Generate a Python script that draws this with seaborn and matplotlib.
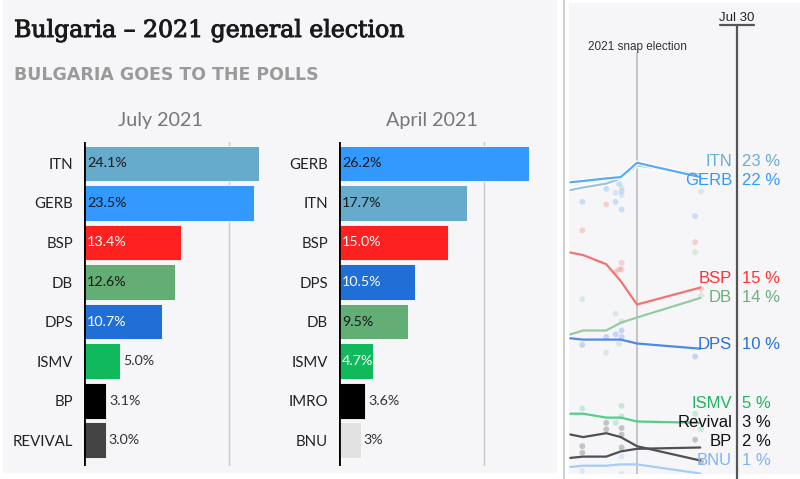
import numpy as np
import pandas as pd
import matplotlib
matplotlib.use("Agg")
import matplotlib.pyplot as plt
from matplotlib.patches import Rectangle
from matplotlib.lines import Line2D
import matplotlib.patheffects as pe
import seaborn as sns

# ---------------- data ----------------
july_parties = ["ITN", "GERB", "BSP", "DB", "DPS", "ISMV", "BP", "REVIVAL"]
july_values = [24.1, 23.5, 13.4, 12.6, 10.7, 5.0, 3.1, 3.0]
july_labels = ["24.1%", "23.5%", "13.4%", "12.6%", "10.7%", "5.0%", "3.1%", "3.0%"]

april_parties = ["GERB", "ITN", "BSP", "DPS", "DB", "ISMV", "IMRO", "BNU"]
april_values = [26.2, 17.7, 15.0, 10.5, 9.5, 4.7, 3.6, 3.0]
april_labels = ["26.2%", "17.7%", "15.0%", "10.5%", "9.5%", "4.7%", "3.6%", "3%"]

trend_dates = ["2021-01-16", "2021-01-31", "2021-02-27", "2021-03-16", "2021-04-04", "2021-06-17"]
trend_itn = [22.3, 22.5, 22.8, 23.2, 24.2, 23.5]
trend_gerb = [22.9, 23.0, 23.2, 23.3, 24.4, 23.3]
trend_bsp = [17.5, 17.3, 16.6, 15.3, 13.5, 14.8]
trend_db = [11.2, 11.5, 11.5, 12.1, 12.5, 14.0]
trend_dps = [10.9, 10.8, 10.8, 10.8, 10.5, 10.1]
trend_ismv = [5.1, 5.1, 4.8, 4.8, 4.5, 4.4]
trend_revival = [1.7, 1.8, 1.8, 2.2, 2.4, 2.5]
trend_bp = [3.5, 3.3, 3.6, 3.3, 2.6, 1.5]
trend_bnu = [1.0, 1.1, 1.1, 1.2, 1.2, 0.5]

trend_parties = ["ITN", "GERB", "BSP", "DB", "DPS", "ISMV", "Revival", "BP", "BNU"]
trend_label_values = ["23 %", "22 %", "15 %", "14 %", "10 %", "5 %", "3 %", "2 %", "1 %"]

poll_party = ["ITN", "GERB", "GERB", "ITN", "GERB", "ITN", "GERB", "ITN", "GERB", "GERB", "ITN", "GERB",
              "BSP", "BSP", "BSP", "BSP", "BSP", "BSP", "BSP", "BSP",
              "DB", "DB", "DB", "DB", "DB", "DB", "DB",
              "DPS", "DPS", "DPS", "DPS", "DPS", "DPS",
              "ISMV", "ISMV", "ISMV", "ISMV", "ISMV", "ISMV",
              "BP", "BP", "BP", "BP", "BP", "Revival", "Revival", "Revival", "Revival",
              "BNU", "BNU", "BNU"]
poll_date = ["2021-02-27", "2021-02-27", "2021-01-30", "2021-03-10", "2021-03-14", "2021-03-17", "2021-03-17",
             "2021-03-17", "2021-03-10", "2021-03-17", "2021-06-18", "2021-06-11",
             "2021-02-27", "2021-01-30", "2021-06-11", "2021-03-10", "2021-03-14", "2021-03-17", "2021-03-17",
             "2021-06-18",
             "2021-06-11", "2021-01-30", "2021-03-10", "2021-03-17", "2021-03-14", "2021-02-27", "2021-06-18",
             "2021-01-30", "2021-02-27", "2021-03-10", "2021-03-17", "2021-03-17", "2021-06-11",
             "2021-01-30", "2021-03-17", "2021-03-17", "2021-03-10", "2021-06-11", "2021-06-18",
             "2021-02-27", "2021-02-27", "2021-03-17", "2021-03-17", "2021-06-18",
             "2021-01-30", "2021-01-30", "2021-03-17", "2021-06-11",
             "2021-03-17", "2021-01-30", "2021-03-17"]
poll_value = [23.2, 22.4, 21.4, 22.1, 22.8, 22.5, 22.2, 21.9, 21.4, 20.8, 22.2, 20.3,
              21.2, 19.2, 18.3, 16.0, 16.2, 16.7, 16.2, 14.7,
              17.5, 13.9, 12.8, 12.2, 10.5, 9.8, 14.2,
              10.4, 11.0, 11.2, 11.0, 11.5, 9.5,
              5.5, 5.7, 4.9, 4.4, 5.1, 3.9,
              4.4, 3.9, 4.0, 3.5, 1.4, 2.6, 2.1, 2.5, 3.1,
              1.8, 0.7, 0.5]

election_date = "2021-04-04"
today_date = "2021-07-30"

# ---------------- styles ----------------
bar_colors = {"ITN": "#67abcc", "GERB": "#3399ff", "BSP": "#ff2020", "DB": "#62ae74",
              "DPS": "#1f6fd6", "ISMV": "#10b95c", "BP": "#000000", "REVIVAL": "#444444",
              "IMRO": "#000000", "BNU": "#e2e2e2"}
line_colors = {"ITN": "#9cc4d6", "GERB": "#5aabf5", "BSP": "#f37373", "DB": "#96cba2",
               "DPS": "#4f8ae2", "ISMV": "#52cf89", "Revival": "#505050", "BP": "#505050",
               "BNU": "#a5cdf7"}
label_colors = {"ITN": "#6aaed0", "GERB": "#3399ff", "BSP": "#ff3333", "DB": "#6cb07c",
                "DPS": "#2870d8", "ISMV": "#20b45c", "Revival": "#111111", "BP": "#111111",
                "BNU": "#80b4f4"}
white_value_labels = {"BSP", "DPS", "ISMV"}

W, H = 800, 479
sns.set_style("white")
plt.rcParams["font.family"] = ["Lato", "DejaVu Sans"]

fig = plt.figure(figsize=(W / 100, H / 100), dpi=100)
fig.patch.set_facecolor("white")


def rect(l, t, r, b):
    return [l / W, 1 - b / H, (r - l) / W, (b - t) / H]


def fpt(x, y):
    return x / W, 1 - y / H


# panel backgrounds
fig.add_artist(Rectangle(fpt(3, 472), (556 - 3) / W, 472 / H, transform=fig.transFigure,
                         color="#f6f6f9", zorder=0))
fig.add_artist(Rectangle(fpt(569, 473), (800 - 569) / W, (473 - 3) / H, transform=fig.transFigure,
                         color="#f6f6f9", zorder=0))
fig.add_artist(Line2D([563.5 / W] * 2, [0, 1], transform=fig.transFigure, color="#cfcfcf", lw=1.5, zorder=1))

# titles
fig.text(*fpt(14, 37), "Bulgaria \u2013 2021 general election", family=["DejaVu Serif"],
         fontsize=17, color="#1a1a1a", ha="left", va="baseline",
         path_effects=[pe.withStroke(linewidth=0.7, foreground="#1a1a1a")])
fig.text(*fpt(14, 80), "BULGARIA GOES TO THE POLLS", family=["DejaVu Sans"], fontweight="bold",
         fontsize=12.5, color="#9a9a9a", ha="left", va="baseline")


def bar_panel(r, parties, values, labels, inside_min):
    ax = fig.add_axes(r)
    ax.set_facecolor("none")
    df = pd.DataFrame({"party": parties, "value": values})
    sns.barplot(data=df, x="value", y="party", hue="party", palette=bar_colors, legend=False,
                orient="h", width=0.9, ax=ax, saturation=1, edgecolor="white", linewidth=0.6)
    ax.set_xlim(0, 28)
    ax.set_ylim(len(parties) - 0.35, -0.54)
    ax.axvline(20, color="#c8c8c8", lw=1, zorder=0)
    ax.axvline(0, color="black", lw=2, zorder=5)
    for s in ax.spines.values():
        s.set_visible(False)
    ax.set_xticks([])
    ax.set_xlabel("")
    ax.set_ylabel("")
    ax.tick_params(axis="y", length=0, pad=8, labelsize=10.8, labelcolor="#222222")
    for i, (p, v, lab) in enumerate(zip(parties, values, labels)):
        if v >= inside_min:
            col = "white" if p in white_value_labels else "#1a1a1a"
            ax.annotate(lab, (0, i), xytext=(3, 0), textcoords="offset pixels", va="center",
                        ha="left", fontsize=10.3, color=col, zorder=6)
        else:
            ax.annotate(lab, (v, i), xytext=(3, 0), textcoords="offset pixels", va="center",
                        ha="left", fontsize=10.3, color="#333333", zorder=6)
    return ax


ax1 = bar_panel(rect(84, 142, 287, 466), july_parties, july_values, july_labels, 10)
ax2 = bar_panel(rect(339, 142, 542, 466), april_parties, april_values, april_labels, 4.5)
fig.text(*fpt(160, 126), "July 2021", ha="center", va="baseline", fontsize=14.2, color="#777777")
fig.text(*fpt(432, 126), "April 2021", ha="center", va="baseline", fontsize=14.2, color="#777777")

# ---------------- trend panel ----------------
axr = fig.add_axes(rect(569, 3, 800, 474))
axr.set_facecolor("none")
series = [trend_itn, trend_gerb, trend_bsp, trend_db, trend_dps, trend_ismv, trend_revival, trend_bp, trend_bnu]
lines_df = pd.DataFrame({
    "party": np.repeat(trend_parties, len(trend_dates)),
    "date": pd.to_datetime(trend_dates * len(trend_parties)),
    "value": np.concatenate(series),
})
polls_df = pd.DataFrame({"party": poll_party, "date": pd.to_datetime(poll_date), "value": poll_value})

sns.scatterplot(data=polls_df, x="date", y="value", hue="party", palette=line_colors, alpha=0.3,
                s=18, linewidth=0, legend=False, ax=axr, zorder=2)
sns.lineplot(data=lines_df, x="date", y="value", hue="party", hue_order=trend_parties,
             palette=line_colors, legend=False, lw=1.6, estimator=None, sort=False, ax=axr, zorder=3)
for ln, p in zip(axr.get_lines(), trend_parties):
    if p in ("ITN", "GERB"):
        ln.set_path_effects([pe.Stroke(linewidth=3.4, foreground="white"), pe.Normal()])

elec = pd.Timestamp(election_date)
today = pd.Timestamp(today_date)
px_per_day = 100 / (today - elec).days
axr.set_xlim(elec - pd.Timedelta(days=(637 - 569) / px_per_day), elec + pd.Timedelta(days=(800 - 637) / px_per_day))
axr.set_ylim((480 - 474) / 13, (480 - 3) / 13)
for s in axr.spines.values():
    s.set_visible(False)
axr.set_xticks([])
axr.set_yticks([])
axr.set_xlabel("")
axr.set_ylabel("")

# reference lines
axr.axvline(elec, ymin=0, ymax=(474 - 53) / 471, color="#bdbdbd", lw=1.2, zorder=1)
axr.text(elec, (474 - 50) / 471, "2021 snap election", transform=axr.get_xaxis_transform(),
         ha="center", va="baseline", fontsize=8.5, color="#333333", family=["Liberation Sans"])
axr.axvline(today, ymin=-0.02, ymax=(474 - 25) / 471, color="#555555", lw=1.6, zorder=4, clip_on=False)
axr.plot([today - pd.Timedelta(days=17 / px_per_day), today + pd.Timedelta(days=17 / px_per_day)],
         [(474 - 25) / 471] * 2, transform=axr.get_xaxis_transform(), color="#555555", lw=1.6, clip_on=False)
axr.text(today, (474 - 21) / 471, "Jul 30", transform=axr.get_xaxis_transform(), ha="center",
         va="baseline", fontsize=9.5, color="#222222", family=["Liberation Sans"])

# end labels with simple repel
ends = np.array([s[-1] for s in series], dtype=float)
pos = ends.copy()
sep, floor = 1.45, 1.15
for _ in range(300):
    for i in range(len(pos) - 1):
        gap = pos[i] - pos[i + 1]
        if gap < sep:
            d = (sep - gap) / 2
            pos[i] += d
            pos[i + 1] -= d
    for i in range(len(pos) - 1, -1, -1):
        lo = floor if i == len(pos) - 1 else pos[i + 1] + sep
        pos[i] = max(pos[i], lo)
pos += 0.35
for p, y, txt in zip(trend_parties, pos, trend_label_values):
    axr.annotate(p, (today, y), xytext=(-5, 0), textcoords="offset pixels", ha="right", va="center",
                 fontsize=12, color=label_colors[p], family=["Liberation Sans"], zorder=6)
    axr.annotate(txt, (today, y), xytext=(5, 0), textcoords="offset pixels", ha="left", va="center",
                 fontsize=12, color=label_colors[p], family=["Liberation Sans"], zorder=6)

fig.savefig("out.png", dpi=100, facecolor=fig.get_facecolor())
